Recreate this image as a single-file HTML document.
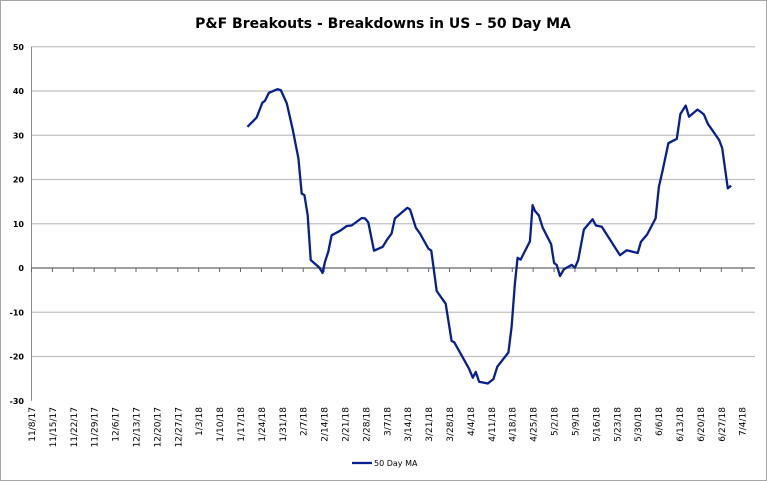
<!DOCTYPE html>
<html><head><meta charset="utf-8"><style>
body{margin:0;background:#fff;}
svg{display:block;font-family:"DejaVu Sans","Liberation Sans",sans-serif;}
</style></head><body>
<svg id="c" width="767" height="481">
<rect x="0.5" y="0.5" width="766" height="480" fill="#fff" stroke="#a6a6a6"/>
<text x="383" y="28" text-anchor="middle" font-size="14" font-weight="bold" fill="#000">P&amp;F Breakouts - Breakdowns in US – 50 Day MA</text>
<g id="grid"></g><g id="axes"></g><g id="series"></g>
<g>
<line x1="352" y1="463" x2="372" y2="463" stroke="#0a1f8f" stroke-width="2.2"/>
<text x="374" y="466" font-size="8" fill="#000">50 Day MA</text>
</g>
</svg>
<script>
const tickLabels=["11/8/17","11/15/17","11/22/17","11/29/17","12/6/17","12/13/17","12/20/17","12/27/17","1/3/18","1/10/18","1/17/18","1/24/18","1/31/18","2/7/18","2/14/18","2/21/18","2/28/18","3/7/18","3/14/18","3/21/18","3/28/18","4/4/18","4/11/18","4/18/18","4/25/18","5/2/18","5/9/18","5/16/18","5/23/18","5/30/18","6/6/18","6/13/18","6/20/18","6/27/18","7/4/18"];
const yTicks=[-30,-20,-10,0,10,20,30,40,50];
const days=[72.3,75.4,77.3,78.2,79.5,82.4,83.5,85.5,87.5,89.4,90.5,91.4,92.5,93.5,96.4,97.5,98.3,99.4,100.5,103.3,105.6,107.2,110.6,111.7,112.8,114.7,117.6,119.0,120.6,121.7,125.9,126.8,128.7,130.1,132.9,133.9,135.7,138.7,140.7,141.6,146.5,147.8,148.8,149.9,152.8,154.7,156.0,159.7,160.8,161.9,162.8,163.8,166.9,167.8,168.6,169.9,171.2,174.0,175.0,175.9,177.0,178.3,180.9,182.0,183.1,185.0,187.9,189.0,191.0,196.0,197.1,199.3,203.0,204.1,206.2,209.0,210.1,211.3,213.3,216.1,217.3,219.1,220.2,223.0,223.9,225.2,226.5,230.3,231.3,233.2,234.3];
const values=[31.9,34.0,37.3,37.8,39.6,40.4,40.2,37.2,31.2,24.8,16.8,16.5,11.9,1.8,0.1,-1.1,1.4,3.7,7.4,8.4,9.5,9.6,11.3,11.2,10.3,3.9,4.8,6.3,7.8,11.2,13.6,13.2,9.1,7.8,4.4,3.9,-5.2,-8.1,-16.5,-16.8,-22.7,-24.8,-23.5,-25.7,-26.1,-25.1,-22.3,-19.1,-13.3,-3.5,2.3,1.9,6.0,14.2,12.9,11.9,9.1,5.4,1.1,0.7,-1.8,-0.3,0.7,0.1,1.8,8.7,11.0,9.6,9.3,4.0,2.9,4.0,3.4,5.9,7.6,11.2,18.4,21.8,28.2,29.2,34.8,36.7,34.2,35.8,35.4,34.7,32.6,28.9,27.1,18.0,18.6];
const NS="http://www.w3.org/2000/svg";
const X0=31.5,DX=2.986,Y0=268,DY=4.425,XR=755;
function xs(d){return X0+d*DX;}
function ys(v){return Y0-v*DY;}
function mk(t,a,p){const e=document.createElementNS(NS,t);for(const k in a)e.setAttribute(k,a[k]);p.appendChild(e);return e;}
const grid=document.getElementById('grid'),axes=document.getElementById('axes'),ser=document.getElementById('series');
yTicks.forEach(v=>{
  if(v!==0&&v!==-30){const g=mk('line',{x1:X0,x2:XR,y1:ys(v),y2:ys(v),stroke:'#c0c0c0','stroke-width':1.3},grid);
  
  }
  const t=mk('text',{x:24,y:ys(v)+3,'text-anchor':'end','font-size':8,'font-weight':'bold',fill:'#000'},axes);
  t.textContent=v;
  
  
});
const ya=mk('line',{x1:X0,x2:X0,y1:ys(50),y2:ys(-30),stroke:'#888','stroke-width':1},axes);


const xa=mk('line',{x1:X0,x2:XR,y1:Y0,y2:Y0,stroke:'#666','stroke-width':1.2},axes);


tickLabels.forEach((l,i)=>{
  const x=xs(i*7);
  const tk=mk('line',{x1:x,x2:x,y1:Y0,y2:Y0+4,stroke:'#666'},axes);
  
  
  const t=mk('text',{x:0,y:0,'text-anchor':'end','font-size':9,fill:'#000',transform:`translate(${x+3.5},${407}) rotate(-90)`},axes);
  t.textContent=l;
  
  
});
const pts=days.map((d,i)=>xs(d).toFixed(1)+','+ys(values[i]).toFixed(1)).join(' ');
const pl=mk('polyline',{points:pts,fill:'none',stroke:'#0a1f8f','stroke-width':2.3,'stroke-linejoin':'round'},ser);


</script>
</body></html>
